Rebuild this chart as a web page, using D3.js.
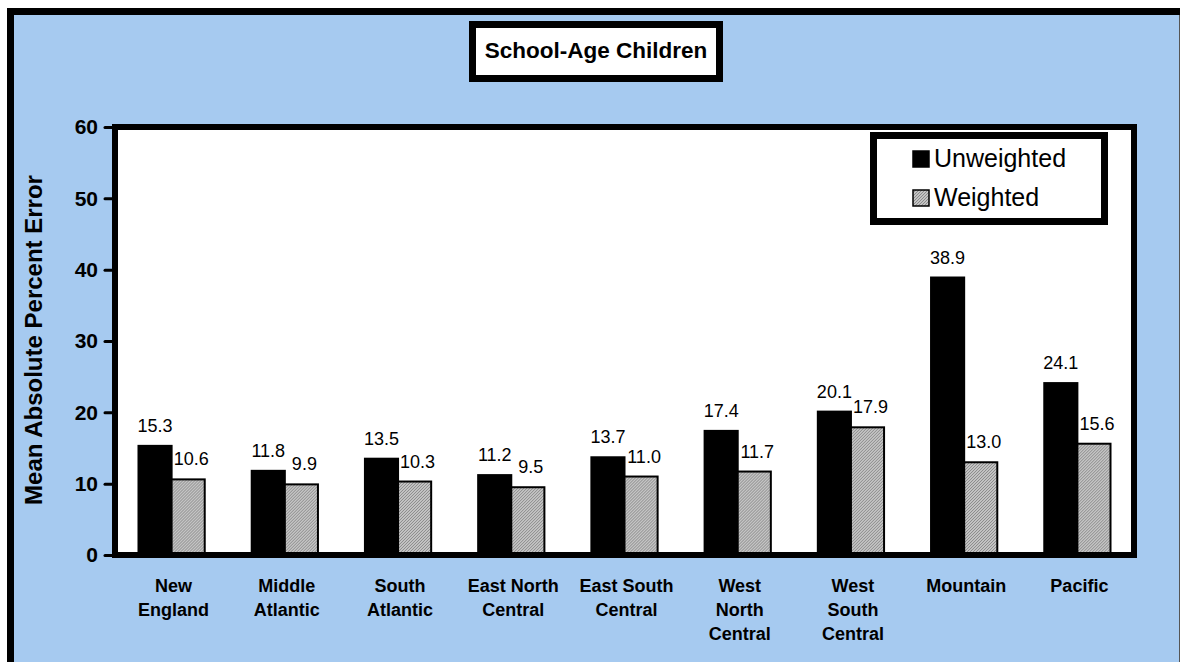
<!DOCTYPE html>
<html>
<head>
<meta charset="utf-8">
<script src="https://cdn.jsdelivr.net/npm/d3@7"></script>
<style>
  html, body { margin: 0; padding: 0; background: #ffffff; }
  svg { display: block; font-family: "Liberation Sans", Arial, sans-serif; }
</style>
</head>
<body>
<svg id="chart" width="1183" height="662"></svg>
<script>
const categories = [
  ["New", "England"],
  ["Middle", "Atlantic"],
  ["South", "Atlantic"],
  ["East North", "Central"],
  ["East South", "Central"],
  ["West", "North", "Central"],
  ["West", "South", "Central"],
  ["Mountain"],
  ["Pacific"]
];
const seriesNames = ["Unweighted", "Weighted"];
const unweighted = [15.3, 11.8, 13.5, 11.2, 13.7, 17.4, 20.1, 38.9, 24.1];
const weighted = [10.6, 9.9, 10.3, 9.5, 11.0, 11.7, 17.9, 13.0, 15.6];
const yTicks = [0, 10, 20, 30, 40, 50, 60];
const titleText = "School-Age Children";
const yTitle = "Mean Absolute Percent Error";

const svg = d3.select("#chart");
const W = 1183, H = 662;
const blue = "#A6CAF0";

// defs: hatch pattern
const defs = svg.append("defs");
const pat = defs.append("pattern")
  .attr("id", "hatch").attr("patternUnits", "userSpaceOnUse")
  .attr("width", 3).attr("height", 3);
pat.append("rect").attr("width", 3).attr("height", 3).attr("fill", "#c4c4c4");
pat.append("path").attr("d", "M0,3 L3,0 M-1,1 L1,-1 M2,4 L4,2")
  .attr("stroke", "#8a8a8a").attr("stroke-width", 1);

// outer frame
svg.append("rect").attr("x", 8).attr("y", 8).attr("width", 1171).attr("height", H)
  .attr("fill", blue);
svg.append("line").attr("x1", 1179.5).attr("x2", 1179.5).attr("y1", 8).attr("y2", H)
  .attr("stroke", "#555").attr("stroke-width", 1);
svg.append("line").attr("x1", 10.5).attr("x2", 10.5).attr("y1", 8).attr("y2", H)
  .attr("stroke", "#000").attr("stroke-width", 7);
svg.append("line").attr("x1", 7).attr("x2", 1180).attr("y1", 11.5).attr("y2", 11.5)
  .attr("stroke", "#000").attr("stroke-width", 7);

// plot area
const plot = { left: 115, right: 1134, top: 127, bottom: 555 };
svg.append("rect").attr("x", plot.left).attr("y", plot.top)
  .attr("width", plot.right - plot.left).attr("height", plot.bottom - plot.top)
  .attr("fill", "#fff");

const x0 = d3.scaleBand().domain(d3.range(categories.length))
  .range([plot.left, plot.right]).padding(0);
const groupW = x0.bandwidth() * 0.585;
const x1 = d3.scaleBand().domain(seriesNames).range([0, groupW]).padding(0);
const y = d3.scaleLinear().domain([0, 60]).range([plot.bottom, plot.top]);

const data = categories.map((c, i) => ({
  i, vals: [
    { s: "Unweighted", v: unweighted[i] },
    { s: "Weighted", v: weighted[i] }
  ]
}));

const groups = svg.append("g").selectAll("g").data(data).join("g")
  .attr("transform", d => `translate(${x0(d.i) + x0.bandwidth() / 2 - groupW / 2},0)`);

groups.selectAll("rect").data(d => d.vals).join("rect")
  .attr("x", d => x1(d.s))
  .attr("y", d => y(d.v))
  .attr("width", x1.bandwidth())
  .attr("height", d => y(0) - y(d.v))
  .attr("fill", d => d.s === "Unweighted" ? "#000" : "url(#hatch)")
  .attr("stroke", "#000").attr("stroke-width", 2);

groups.selectAll("text.val").data(d => d.vals).join("text")
  .attr("class", "val")
  .attr("x", d => x1(d.s) + x1.bandwidth() / 2 + (d.s === "Weighted" ? 3 : 0))
  .attr("y", d => y(d.v) - 14)
  .attr("text-anchor", "middle")
  .attr("font-size", 18).attr("fill", "#000")
  .text(d => d.v.toFixed(1));

// plot border
svg.append("rect").attr("x", plot.left).attr("y", plot.top)
  .attr("width", plot.right - plot.left).attr("height", plot.bottom - plot.top)
  .attr("fill", "none").attr("stroke", "#000").attr("stroke-width", 6);

// y axis
const yAxis = d3.axisLeft(y).tickValues(yTicks).tickSize(10).tickPadding(7)
  .tickFormat(d3.format("d"));
const ya = svg.append("g").attr("transform", `translate(${plot.left},0)`).call(yAxis);
ya.select(".domain").remove();
ya.selectAll(".tick line").attr("stroke", "#000").attr("stroke-width", 3)
  .attr("stroke-linecap", "round");
ya.selectAll(".tick text").attr("font-size", 21).attr("font-weight", "bold")
  .attr("font-family", "'Liberation Sans', Arial, sans-serif").attr("fill", "#000");

// x category labels
const xl = svg.append("g").selectAll("text").data(categories).join("text")
  .attr("x", (d, i) => x0(i) + x0.bandwidth() / 2 + 2)
  .attr("y", 592)
  .attr("text-anchor", "middle")
  .attr("font-size", 18).attr("font-weight", "bold").attr("fill", "#000");
xl.selectAll("tspan").data(d => d).join("tspan")
  .attr("x", function() { return d3.select(this.parentNode).attr("x"); })
  .attr("dy", (d, j) => j === 0 ? 0 : 24)
  .text(d => d);

// y title
svg.append("text")
  .attr("transform", `translate(42,${(165 + 515) / 2}) rotate(-90)`)
  .attr("text-anchor", "middle")
  .attr("font-size", 24).attr("font-weight", "bold").attr("fill", "#000")
  .text(yTitle);

// title box
svg.append("rect").attr("x", 472.5).attr("y", 24.5).attr("width", 247).attr("height", 54)
  .attr("fill", "#fff").attr("stroke", "#000").attr("stroke-width", 7);
svg.append("text").attr("x", 596).attr("y", 58)
  .attr("text-anchor", "middle").attr("font-size", 22.5).attr("font-weight", "bold")
  .attr("fill", "#000").text(titleText);

// legend
svg.append("rect").attr("x", 873.5).attr("y", 135.5).attr("width", 231).attr("height", 86)
  .attr("fill", "#fff").attr("stroke", "#000").attr("stroke-width", 7);
const leg = svg.append("g").selectAll("g").data(seriesNames).join("g")
  .attr("transform", (d, i) => `translate(913,${151 + i * 39})`);
leg.append("rect").attr("width", 16).attr("height", 16)
  .attr("fill", d => d === "Unweighted" ? "#000" : "url(#hatch)")
  .attr("stroke", "#000").attr("stroke-width", 1.5);
leg.append("text").attr("x", 21).attr("y", 16)
  .attr("font-size", 25).attr("fill", "#000").text(d => d);
</script>
</body>
</html>
